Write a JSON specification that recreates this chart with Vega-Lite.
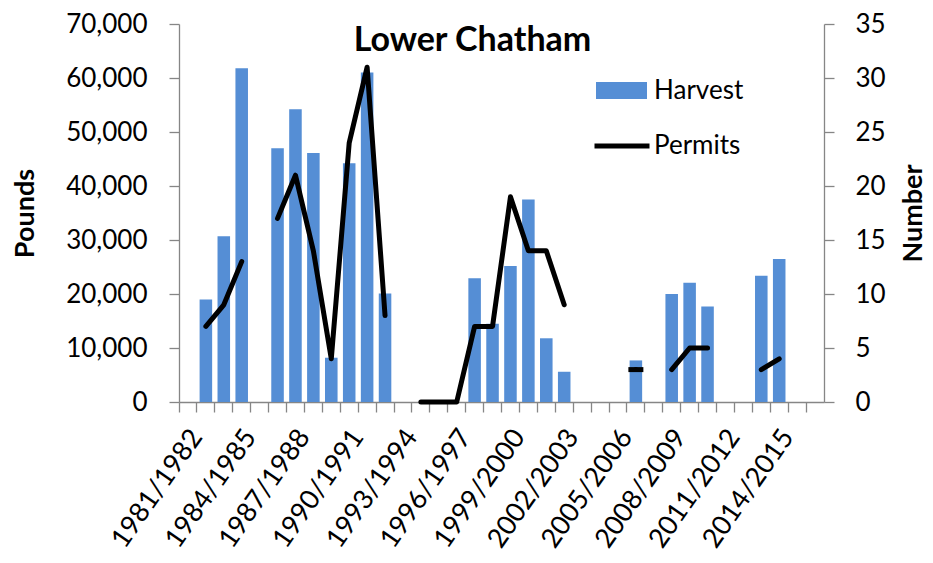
{
  "$schema": "https://vega.github.io/schema/vega-lite/v6.json",
  "autosize": {"type": "none"},
  "width": 645,
  "height": 378,
  "padding": {"left": 179, "top": 24, "right": 109, "bottom": 161},
  "background": "white",
  "config": {
    "view": {"stroke": null},
    "font": "Lato",
    "axis": {
      "domainColor": "#868686",
      "tickColor": "#868686",
      "domainWidth": 1.3,
      "tickWidth": 1.3,
      "labelColor": "#000000",
      "labelFont": "Lato",
      "labelFontSize": 26,
      "titleFont": "Lato",
      "titleFontSize": 27,
      "titleFontWeight": "bold",
      "titleColor": "#000000",
      "grid": false
    },
    "legend": {"labelFont": "Lato", "labelFontSize": 26, "labelColor": "#000000"}
  },
  "title": {
    "text": "Lower Chatham",
    "font": "Lato",
    "fontSize": 34,
    "fontWeight": "bold",
    "color": "#000000",
    "anchor": "middle",
    "frame": "group",
    "baseline": "alphabetic",
    "offset": -74,
    "dx": -29
  },
  "data": {
    "values": [
      {"Season": "1981/1982", "Harvest": null, "Permits": null},
      {"Season": "1982/1983", "Harvest": 19000, "Permits": 7},
      {"Season": "1983/1984", "Harvest": 30700, "Permits": 9},
      {"Season": "1984/1985", "Harvest": 61800, "Permits": 13},
      {"Season": "1985/1986", "Harvest": null, "Permits": null},
      {"Season": "1986/1987", "Harvest": 47000, "Permits": 17},
      {"Season": "1987/1988", "Harvest": 54200, "Permits": 21},
      {"Season": "1988/1989", "Harvest": 46100, "Permits": 14},
      {"Season": "1989/1990", "Harvest": 8200, "Permits": 4},
      {"Season": "1990/1991", "Harvest": 44200, "Permits": 24},
      {"Season": "1991/1992", "Harvest": 61000, "Permits": 31},
      {"Season": "1992/1993", "Harvest": 20100, "Permits": 8},
      {"Season": "1993/1994", "Harvest": null, "Permits": null},
      {"Season": "1994/1995", "Harvest": null, "Permits": 0},
      {"Season": "1995/1996", "Harvest": null, "Permits": 0},
      {"Season": "1996/1997", "Harvest": null, "Permits": 0},
      {"Season": "1997/1998", "Harvest": 22900, "Permits": 7},
      {"Season": "1998/1999", "Harvest": 14500, "Permits": 7},
      {"Season": "1999/2000", "Harvest": 25200, "Permits": 19},
      {"Season": "2000/2001", "Harvest": 37500, "Permits": 14},
      {"Season": "2001/2002", "Harvest": 11800, "Permits": 14},
      {"Season": "2002/2003", "Harvest": 5600, "Permits": 9},
      {"Season": "2003/2004", "Harvest": null, "Permits": null},
      {"Season": "2004/2005", "Harvest": null, "Permits": null},
      {"Season": "2005/2006", "Harvest": null, "Permits": null},
      {"Season": "2006/2007", "Harvest": 7700, "Permits": 3},
      {"Season": "2007/2008", "Harvest": null, "Permits": null},
      {"Season": "2008/2009", "Harvest": 20000, "Permits": 3},
      {"Season": "2009/2010", "Harvest": 22100, "Permits": 5},
      {"Season": "2010/2011", "Harvest": 17700, "Permits": 5},
      {"Season": "2011/2012", "Harvest": null, "Permits": null},
      {"Season": "2012/2013", "Harvest": null, "Permits": null},
      {"Season": "2013/2014", "Harvest": 23400, "Permits": 3},
      {"Season": "2014/2015", "Harvest": 26500, "Permits": 4},
      {"Season": "2015/2016", "Harvest": null, "Permits": null},
      {"Season": "2016/2017", "Harvest": null, "Permits": null}
    ]
  },
  "encoding": {
    "x": {
      "field": "Season",
      "type": "nominal",
      "scale": {"paddingInner": 0, "paddingOuter": 0},
      "axis": {
        "title": null,
        "labelAngle": -55,
        "labelFontSize": 27,
        "bandPosition": 0,
        "tickSize": 10,
        "labelPadding": 20,
        "labelOffset": 9,
        "labelExpr": "toNumber(substring(datum.value, 0, 4)) % 3 == 1 ? datum.value : ''"
      }
    }
  },
  "layer": [
    {
      "mark": {"type": "bar", "width": {"band": 0.7}, "invalid": "break-paths-show-domains"},
      "encoding": {
        "y": {
          "field": "Harvest",
          "type": "quantitative",
          "scale": {"domain": [0, 70000]},
          "axis": {
            "title": "Pounds",
            "values": [0, 10000, 20000, 30000, 40000, 50000, 60000, 70000],
            "format": ",.0f",
            "tickSize": 10,
            "labelPadding": 22,
            "titlePadding": 26
          }
        },
        "fill": {
          "datum": "Harvest",
          "scale": {"domain": ["Harvest"], "range": ["#558ED5"]},
          "legend": {
            "orient": "none",
            "legendX": 417,
            "legendY": 41,
            "title": null,
            "padding": 0,
            "symbolType": "M-1,-0.333H1V0.333H-1Z",
            "symbolSize": 2601,
            "symbolStrokeWidth": 0,
            "labelOffset": 7
          }
        }
      }
    },
    {
      "layer": [
        {
          "mark": {"type": "line", "strokeWidth": 5, "strokeCap": "round", "strokeJoin": "round", "invalid": "break-paths-show-domains"},
          "encoding": {
            "y": {
              "field": "Permits",
              "type": "quantitative",
              "scale": {"domain": [0, 35]},
              "axis": {
                "title": "Number",
                "orient": "right",
                "values": [0, 5, 10, 15, 20, 25, 30, 35],
                "tickSize": 10,
                "labelPadding": 21,
                "titlePadding": 42,
                "titleAngle": 270
              }
            },
            "stroke": {
              "datum": "Permits",
              "scale": {"domain": ["Permits"], "range": ["#000000"]},
              "legend": {
                "orient": "none",
                "legendX": 413,
                "legendY": 92,
                "title": null,
                "padding": 0,
                "symbolType": "stroke",
                "symbolSize": 3025,
                "symbolStrokeWidth": 5,
                "labelOffset": 2
              }
            }
          }
        },
        {
          "transform": [{"filter": "datum.Season == '2006/2007'"}],
          "mark": {"type": "tick", "color": "#000000", "opacity": 1, "thickness": 5, "size": 15},
          "encoding": {
            "y": {"field": "Permits", "type": "quantitative"}
          }
        }
      ]
    }
  ],
  "resolve": {"scale": {"y": "independent"}, "axis": {"y": "independent"}}
}
